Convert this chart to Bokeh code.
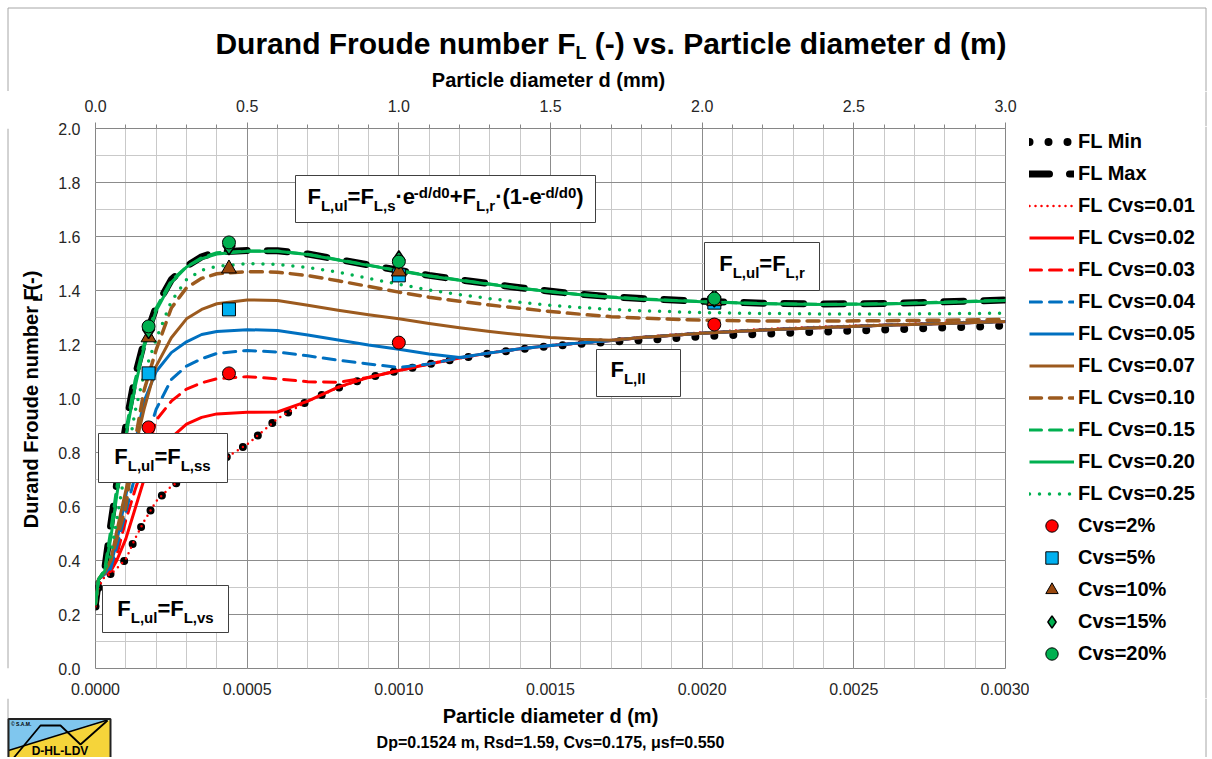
import math
from bokeh.plotting import figure
from bokeh.layouts import column, row
from bokeh.models import (Range1d, LinearAxis, SingleIntervalTicker, PrintfTickFormatter,
                          Legend, LegendItem, Label, BoxAnnotation)
from bokeh.embed import file_html
from bokeh.resources import INLINE

# ---------------- data ----------------
d_m = [0, 0.00001, 0.00003, 0.00005, 0.00007, 0.0001, 0.00013, 0.00016, 0.0002, 0.00025,
       0.0003, 0.00035, 0.0004, 0.0005, 0.0006, 0.0007, 0.0008, 0.0009, 0.001, 0.0011,
       0.0012, 0.0013, 0.0014, 0.0015, 0.0016, 0.0017, 0.0018, 0.002, 0.0022, 0.0024,
       0.0026, 0.0028, 0.003]

fl_min = [0.23, 0.30, 0.34, 0.35, 0.37, 0.405, 0.48, 0.545, 0.62, 0.675, 0.71, 0.735, 0.76,
          0.83, 0.925, 0.99, 1.04, 1.078, 1.103, 1.127, 1.148, 1.167, 1.182, 1.194, 1.203,
          1.21, 1.216, 1.23, 1.24, 1.248, 1.255, 1.263, 1.27]
fl_max = [0.24, 0.33, 0.365, 0.53, 0.685, 0.90, 1.08, 1.21, 1.34, 1.44, 1.49, 1.525, 1.542,
          1.548, 1.547, 1.535, 1.515, 1.495, 1.475, 1.456, 1.44, 1.425, 1.41, 1.397, 1.386,
          1.377, 1.37, 1.36, 1.353, 1.35, 1.352, 1.358, 1.365]
fl_cvs_001 = [0.23, 0.30, 0.34, 0.35, 0.37, 0.405, 0.48, 0.545, 0.62, 0.675, 0.71, 0.735, 0.76,
              0.83, 0.925, 0.99, 1.04, 1.078, 1.104, 1.129, 1.151, 1.17, 1.185, 1.197, 1.207,
              1.217, 1.228, 1.245, 1.257, 1.266, 1.274, 1.281, 1.288]
fl_cvs_002 = [0.24, 0.33, 0.35, 0.36, 0.40, 0.48, 0.59, 0.70, 0.79, 0.855, 0.905, 0.93, 0.943,
              0.949, 0.95, 0.99, 1.042, 1.078, 1.104, 1.128, 1.15, 1.169, 1.184, 1.196, 1.206,
              1.215, 1.226, 1.242, 1.254, 1.263, 1.271, 1.278, 1.285]
fl_cvs_003 = [0.24, 0.33, 0.35, 0.36, 0.42, 0.55, 0.66, 0.76, 0.92, 0.99, 1.035, 1.058, 1.073,
              1.081, 1.073, 1.062, 1.06, 1.078, 1.104, 1.128, 1.15, 1.169, 1.184, 1.196, 1.206,
              1.215, 1.226, 1.242, 1.254, 1.263, 1.271, 1.278, 1.285]
fl_cvs_004 = [0.24, 0.33, 0.35, 0.37, 0.45, 0.58, 0.71, 0.82, 0.96, 1.07, 1.12, 1.147, 1.167,
              1.178, 1.172, 1.158, 1.142, 1.128, 1.115, 1.128, 1.15, 1.169, 1.184, 1.196, 1.206,
              1.215, 1.226, 1.242, 1.254, 1.263, 1.271, 1.278, 1.285]
fl_cvs_005 = [0.24, 0.33, 0.35, 0.38, 0.47, 0.64, 0.83, 0.99, 1.10, 1.17, 1.21, 1.237, 1.248,
              1.255, 1.252, 1.235, 1.217, 1.198, 1.182, 1.165, 1.152, 1.169, 1.184, 1.196, 1.206,
              1.215, 1.226, 1.242, 1.254, 1.263, 1.271, 1.278, 1.285]
fl_cvs_007 = [0.24, 0.33, 0.355, 0.40, 0.51, 0.66, 0.815, 0.96, 1.12, 1.225, 1.295, 1.33, 1.351,
              1.365, 1.363, 1.345, 1.327, 1.31, 1.295, 1.278, 1.262, 1.248, 1.236, 1.226, 1.219,
              1.216, 1.226, 1.242, 1.254, 1.263, 1.271, 1.278, 1.285]
fl_cvs_010 = [0.24, 0.33, 0.36, 0.40, 0.48, 0.60, 0.84, 1.03, 1.18, 1.335, 1.41, 1.445, 1.462,
              1.47, 1.468, 1.455, 1.436, 1.415, 1.394, 1.375, 1.36, 1.346, 1.334, 1.322, 1.312,
              1.303, 1.298, 1.29, 1.287, 1.287, 1.288, 1.29, 1.293]
fl_cvs_015 = [0.24, 0.33, 0.365, 0.51, 0.67, 0.88, 1.065, 1.20, 1.335, 1.437, 1.488, 1.522, 1.54,
              1.546, 1.546, 1.534, 1.514, 1.494, 1.474, 1.455, 1.439, 1.424, 1.409, 1.396, 1.385,
              1.376, 1.369, 1.359, 1.352, 1.349, 1.351, 1.357, 1.364]
fl_cvs_020 = [0.24, 0.33, 0.36, 0.48, 0.64, 0.86, 1.04, 1.19, 1.325, 1.43, 1.487, 1.518, 1.535,
              1.545, 1.545, 1.533, 1.513, 1.493, 1.473, 1.454, 1.438, 1.423, 1.408, 1.395, 1.384,
              1.375, 1.368, 1.358, 1.351, 1.348, 1.35, 1.356, 1.363]
fl_cvs_025 = [0.24, 0.33, 0.36, 0.42, 0.55, 0.75, 0.95, 1.09, 1.22, 1.36, 1.44, 1.475, 1.49,
              1.499, 1.497, 1.485, 1.468, 1.445, 1.423, 1.402, 1.385, 1.37, 1.356, 1.345, 1.337,
              1.33, 1.325, 1.318, 1.315, 1.313, 1.313, 1.314, 1.316]

d_exp = [0.000175, 0.00044, 0.00100, 0.00204]
cvs_2pct = [0.893, 1.093, 1.207, 1.274]
cvs_5pct = [1.093, 1.33, 1.456, 1.355]
cvs_10pct = [1.226, 1.481, 1.47, 1.36]
cvs_15pct = [1.255, 1.565, 1.514, 1.372]
cvs_20pct = [1.267, 1.578, 1.507, 1.37]

FONT = "Liberation Sans"
BORDER = "#a6a6a6"
MID = 0.3465   # distance baseline -> centre of the font box, in em (labels are centre-anchored)

# ---------------- layout geometry (page pixels) ----------------
TOTAL_W = 1210
TOP_H = 91          # title strip: page y 0..91
MID_H = 607         # plot strip: page y 91..698
BOT_H = 59          # footer strip: page y 698..757
LEFT_W = 45         # y-label strip: page x 0..45
LEG_X0 = 1029       # legend strip: page x 1029..1210
LEG_Y0 = 126        # legend box top (page y)
MAIN_W = LEG_X0 - LEFT_W
LEG_W = TOTAL_W - LEG_X0

def blank(w, h, x0, y0):
    """Figure whose data coordinates equal page pixels (y downward)."""
    f = figure(width=w, height=h, output_backend="svg", toolbar_location=None, title=None,
               x_range=Range1d(x0, x0 + w), y_range=Range1d(y0 + h, y0),
               x_axis_type=None, y_axis_type=None, min_border=0)
    f.outline_line_color = None
    f.background_fill_color = "white"
    f.border_fill_color = "white"
    return f

BOLD_W = {' ': 278, ',': 278, '-': 333, '.': 278, '/': 278, '=': 584, '+': 584, '(': 333,
          ')': 333, '·': 278, 'F': 611, 'L': 611, 'e': 556, 'd': 611, 'l': 278, 'u': 611,
          's': 556, 'r': 389, 'v': 556, 'D': 722, 'a': 556, 'n': 611, 'o': 611, 'm': 889,
          'b': 611, 'P': 667, 't': 333, 'i': 278, 'c': 556}

def tw(s, size):
    return sum(BOLD_W.get(c, 556) for c in s) * size / 1000.0

def lab(f, text, x, y, size, align="center", style="bold"):
    """x, y = page position of the text baseline anchor."""
    f.add_layout(Label(x=x, y=y - MID * size, text=text, text_font=FONT, text_font_style=style,
                       text_font_size=f"{size}px", text_color="black", text_align=align,
                       text_baseline="alphabetic"))

def vlab(f, text, x_base, y_center, size):
    """Rotated (bottom-to-top) text, centred on y_center, baseline at x_base."""
    f.add_layout(Label(x=x_base - MID * size, y=y_center, text=text, text_font=FONT,
                       text_font_style="bold", text_font_size=f"{size}px", text_color="black",
                       text_align="center", text_baseline="alphabetic", angle=math.pi / 2))

# ---------------- title strip ----------------
top_fig = blank(TOTAL_W, TOP_H, 0, 0)
TS, TSUB = 30, 18
left_part = "Durand Froude number F"
right_part = "(-) vs. Particle diameter d (m)"
tot = tw(left_part, TS) + tw("L", TSUB) + tw(" " + right_part, TS)
x_start = 610.5 - tot / 2
x_f = x_start + tw(left_part, TS)
lab(top_fig, left_part, x_f, 53.3, TS, "right")
lab(top_fig, "L", x_f, 58.5, TSUB, "left")
lab(top_fig, right_part, x_f + tw("L", TSUB) + tw(" ", TS), 53.3, TS, "left")
lab(top_fig, "Particle diameter d (mm)", 548, 86, 20)
top_fig.line([7.5, 7.5, 1205.5, 1205.5], [TOP_H, 7.5, 7.5, TOP_H], line_color=BORDER, line_width=1)

# ---------------- left strip (y label, reads bottom to top) ----------------
left_fig = blank(LEFT_W, MID_H, 0, TOP_H)
ys = 525.5
w1 = tw("Durand Froude number F", 20)
wl = tw("L", 13)
wsp = tw(" ", 20)
wp = tw("(-)", 20)
vlab(left_fig, "Durand Froude number F", 37, ys - w1 / 2, 20)
vlab(left_fig, "L", 42, ys - w1 - 0.5 - wl / 2, 13)
vlab(left_fig, "(-)", 37, ys - w1 - wl - wsp - wp / 2, 20)
left_fig.line([7.5, 7.5], [TOP_H, TOP_H + MID_H], line_color=BORDER, line_width=1)

# ---------------- main plot ----------------
p = figure(width=MAIN_W, height=MID_H, output_backend="svg", toolbar_location=None, title=None,
           x_range=Range1d(0, 0.003), y_range=Range1d(0, 2.0),
           min_border_left=95 - LEFT_W, min_border_right=MAIN_W - (95 - LEFT_W) - 910,
           min_border_top=128 - TOP_H, min_border_bottom=TOP_H + MID_H - 668)
p.background_fill_color = "white"
p.border_fill_color = "white"
p.outline_line_color = "#868686"
p.outline_line_width = 1

def dx(px):
    return (px - 95.0) / 910.0 * 0.003

def dy(py):
    return (668.0 - py) / 270.0

xax = p.xaxis[0]
xax.ticker = SingleIntervalTicker(interval=0.0005, num_minor_ticks=5)
xax.formatter = PrintfTickFormatter(format="%.4f")
yax = p.yaxis[0]
yax.ticker = SingleIntervalTicker(interval=0.2, num_minor_ticks=2)
yax.formatter = PrintfTickFormatter(format="%.1f")
for ax in (xax, yax):
    ax.axis_line_color = None
    ax.major_tick_line_color = None
    ax.minor_tick_line_color = None
    ax.major_tick_out = 0
    ax.minor_tick_out = 0
    ax.major_label_text_font = FONT
    ax.major_label_text_font_size = "16px"
    ax.major_label_text_color = "#262626"
xax.major_label_standoff = 14
yax.major_label_standoff = 15

p.extra_x_ranges = {"mm": Range1d(0, 3.0)}
top = LinearAxis(x_range_name="mm",
                 ticker=SingleIntervalTicker(interval=0.5, num_minor_ticks=5),
                 formatter=PrintfTickFormatter(format="%.1f"))
top.axis_line_color = None
top.major_tick_line_color = "#868686"
top.minor_tick_line_color = "#868686"
top.major_tick_out = 6
top.major_tick_in = 0
top.minor_tick_out = 4
top.minor_tick_in = 0
top.major_label_standoff = 11
top.major_label_text_font = FONT
top.major_label_text_font_size = "16px"
top.major_label_text_color = "#262626"
p.add_layout(top, "above")

for g in (p.xgrid[0], p.ygrid[0]):
    g.grid_line_color = "#8c8c8c"
    g.grid_line_width = 1
    g.minor_grid_line_color = "#c9c9c9"
    g.minor_grid_line_width = 1

RED = "#FF0000"
BLUE = "#0070C0"
BROWN = "#9C5A1E"
GREEN = "#00B050"

def lstyle(color, width, dash="solid", cap="round"):
    return dict(line_color=color, line_width=width, line_dash=dash, line_cap=cap, line_join="round")

line_series = [
    ("FL Min", fl_min, lstyle("black", 8, "0 19")),
    ("FL Max", fl_max, lstyle("black", 7, "20 20")),
    ("FL Cvs=0.01", fl_cvs_001, lstyle(RED, 2.5, "0 6")),
    ("FL Cvs=0.02", fl_cvs_002, lstyle(RED, 3, "solid", "butt")),
    ("FL Cvs=0.03", fl_cvs_003, lstyle(RED, 3, "12 8")),
    ("FL Cvs=0.04", fl_cvs_004, lstyle(BLUE, 3, "12 8")),
    ("FL Cvs=0.05", fl_cvs_005, lstyle(BLUE, 3, "solid", "butt")),
    ("FL Cvs=0.07", fl_cvs_007, lstyle(BROWN, 3, "solid", "butt")),
    ("FL Cvs=0.10", fl_cvs_010, lstyle(BROWN, 3.5, "12 8")),
    ("FL Cvs=0.15", fl_cvs_015, lstyle(GREEN, 3, "12 8")),
    ("FL Cvs=0.20", fl_cvs_020, lstyle(GREEN, 3, "solid", "butt")),
    ("FL Cvs=0.25", fl_cvs_025, lstyle(GREEN, 3.5, "0 10")),
]
marker_series = [
    ("Cvs=2%", cvs_2pct, dict(marker="circle", size=13, fill_color=RED, line_color="black", line_width=1)),
    ("Cvs=5%", cvs_5pct, dict(marker="square", size=13, fill_color="#00B0F0", line_color="black", line_width=1)),
    ("Cvs=10%", cvs_10pct, dict(marker="triangle", size=15, fill_color="#99480E", line_color="black", line_width=1)),
    ("Cvs=15%", cvs_15pct, dict(marker="diamond", size=18, fill_color=GREEN, line_color="black", line_width=1.5)),
    ("Cvs=20%", cvs_20pct, dict(marker="circle", size=13, fill_color=GREEN, line_color="black", line_width=1)),
]

for name, ys_, st in line_series:
    p.line(d_m, ys_, **st)
for name, ys_, st in marker_series:
    p.scatter(d_exp, ys_, **st)

# text boxes inside the plot area
def rich(runs, x_px, base_px, center=False):
    total = sum(tw(t, sz) for t, sz, off in runs)
    x = x_px - total / 2.0 if center else x_px
    for t, sz, off in runs:
        p.add_layout(Label(x=dx(x), y=dy(base_px + off - MID * sz), text=t, text_font=FONT,
                           text_font_style="bold", text_font_size=f"{sz}px", text_color="black",
                           text_align="left", text_baseline="alphabetic"))
        x += tw(t, sz)

def box(l, t, r, b):
    p.add_layout(BoxAnnotation(left=dx(l), right=dx(r), top=dy(t), bottom=dy(b),
                               fill_color="white", fill_alpha=1.0,
                               line_color="#404040", line_width=1, line_alpha=1.0))

M, S = 22, 15
box(295, 175, 595, 222)
rich([("F", M, 0), ("L,ul", S, 6), ("=F", M, 0), ("L,s", S, 6), ("·e", M, 0), ("-d/d0", S, -7),
      ("+F", M, 0), ("L,r", S, 6), ("·(1-e", M, 0), ("-d/d0", S, -7), (")", M, 0)], 445, 204, True)
box(704, 242, 819, 290)
rich([("F", M, 0), ("L,ul", S, 6), ("=F", M, 0), ("L,r", S, 6)], 761.5, 271, True)
box(596, 349, 680, 396)
rich([("F", M, 0), ("L,ll", S, 6)], 610, 377)
box(98, 433, 227, 482)
rich([("F", M, 0), ("L,ul", S, 6), ("=F", M, 0), ("L,ss", S, 6)], 162, 464, True)
box(102, 585, 228, 632)
rich([("F", M, 0), ("L,ul", S, 6), ("=F", M, 0), ("L,vs", S, 6)], 165, 616, True)

# ---------------- legend strip ----------------
leg_head = blank(LEG_W, LEG_Y0 - TOP_H, LEG_X0, TOP_H)
leg_head.line([1205.5, 1205.5], [TOP_H, LEG_Y0], line_color=BORDER, line_width=1)
leg_fig = blank(LEG_W, TOP_H + MID_H - LEG_Y0, LEG_X0, LEG_Y0)
leg_items = []
for name, ys_, st in line_series:
    r = leg_fig.line([-1000, -999], [-1000, -999], **st)     # legend key only (off-canvas)
    leg_items.append(LegendItem(label=name, renderers=[r]))
for name, ys_, st in marker_series:
    r = leg_fig.scatter([-1000], [-1000], **st)
    leg_items.append(LegendItem(label=name, renderers=[r]))
legend = Legend(items=leg_items, location="top_left", orientation="vertical",
                label_text_font=FONT, label_text_font_style="bold", label_text_font_size="20px",
                label_text_color="black",
                glyph_width=45, glyph_height=31, label_height=21, label_standoff=4,
                spacing=1, padding=0, margin=0,
                border_line_color=None, background_fill_alpha=0)
leg_fig.add_layout(legend)
leg_fig.line([1205.5, 1205.5], [LEG_Y0, TOP_H + MID_H], line_color=BORDER, line_width=1)
leg_col = column(leg_head, leg_fig)

# ---------------- footer strip ----------------
bot_fig = blank(TOTAL_W, BOT_H, 0, TOP_H + MID_H)
lab(bot_fig, "Particle diameter d (m)", 550, 722.5, 20)
lab(bot_fig, "Dp=0.1524 m, Rsd=1.59, Cvs=0.175, \u03bcsf=0.550", 550, 748, 16)
bot_fig.line([7.5, 7.5], [698, 757], line_color=BORDER, line_width=1)
bot_fig.line([1205.5, 1205.5], [698, 757], line_color=BORDER, line_width=1)
# logo
bot_fig.patch([8, 110, 110, 8], [718.5, 718.5, 719.5, 750], fill_color="#7FC6EE", line_color=None)
bot_fig.patch([8, 110, 110, 8], [750, 719.5, 757, 757], fill_color="#F5D43A", line_color=None)
bot_fig.line([8, 107], [750, 719.5], line_color="black", line_width=1.5)
bot_fig.line([13.5, 40, 60, 80, 107], [757, 725, 725, 744, 720], line_color="black", line_width=1.8)
bot_fig.line([8, 8, 110, 110], [757, 718.5, 718.5, 757], line_color="#222222", line_width=2)
lab(bot_fig, "D-HL-LDV", 59.5, 755, 12)
lab(bot_fig, "\u00a9 S.A.M.", 10.5, 725.5, 5, "left")

layout = column(top_fig, row(left_fig, p, leg_col), bot_fig)
open("out.html", "w").write(file_html(layout, INLINE))
